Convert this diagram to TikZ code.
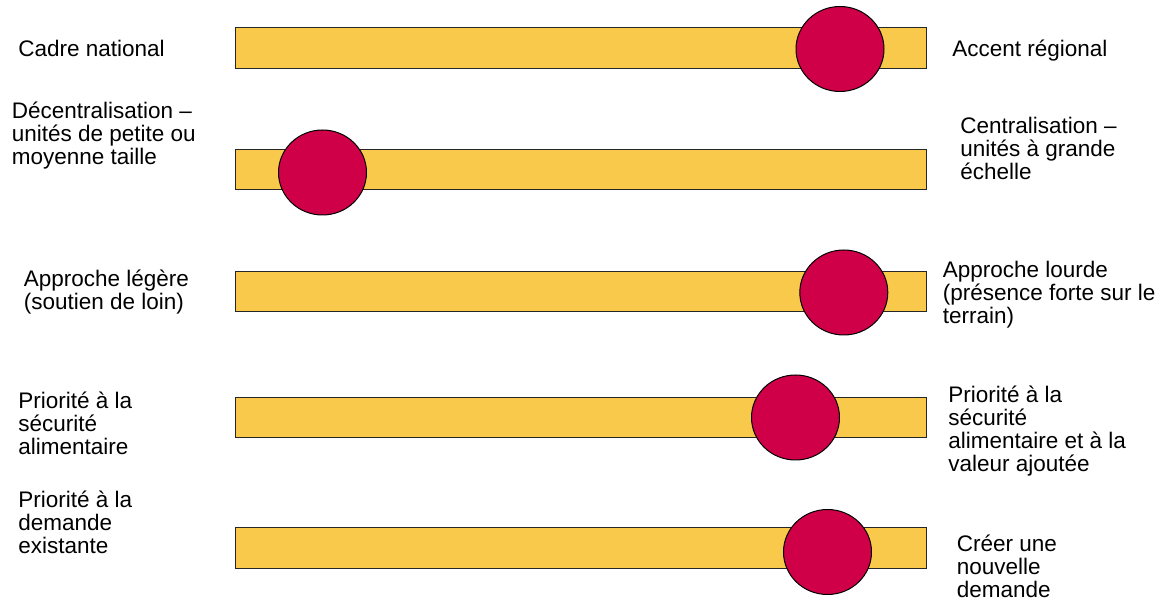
\documentclass[tikz,border=0pt]{standalone}
\usepackage{fontspec}
\setmainfont{Liberation Sans}
\usetikzlibrary{shapes.geometric}
\definecolor{barfill}{HTML}{F8C94A}
\definecolor{knobfill}{HTML}{D00048}
\tikzset{
  bar/.style   = {draw=black!85, line width=0.5pt, fill=barfill, rectangle,
                  minimum width=345.5pt, minimum height=20.25pt, inner sep=0pt},
  knob/.style  = {draw=black, line width=0.5pt, fill=knobfill, ellipse,
                  minimum width=44pt, minimum height=42.5pt, inner sep=0pt},
  % placed at the baseline of the last line
  lbl/.style   = {anchor=base west, align=left, inner sep=0pt,
                  font=\fontsize{11.25pt}{11.5pt}\selectfont},
}
\begin{document}
\begin{tikzpicture}[x=0.5pt, y=-0.5pt]
\useasboundingbox (0,0) rectangle (1167,603);

% sliders
\node[bar] (bar1) at (580.5,48) {};
\node[bar] (bar2) at (580.5,169.5) {};
\node[bar] (bar3) at (580.5,291.5) {};
\node[bar] (bar4) at (580.5,417.5) {};
\node[bar] (bar5) at (580.5,548) {};

\node[knob] (knob1) at (840,49) {};
\node[knob] (knob2) at (322.5,172.5) {};
\node[knob] (knob3) at (843.8,292.5) {};
\node[knob] (knob4) at (795.5,417.5) {};
\node[knob] (knob5) at (827.5,552) {};

% left ends
\node[lbl] (left1) at (18,56.5) {Cadre national};
\node[lbl] (left2) at (11.5,164.5) {Décentralisation –\\unités de petite ou\\moyenne taille};
\node[lbl] (left3) at (23.5,309.5) {Approche légère\\(soutien de loin)};
\node[lbl] (left4) at (18,455) {Priorité à la\\sécurité\\alimentaire};
\node[lbl] (left5) at (18,554) {Priorité à la\\demande\\existante};

% right ends
\node[lbl] (right1) at (952,56.5) {Accent régional};
\node[lbl] (right2) at (960,180) {Centralisation –\\unités à grande\\échelle};
\node[lbl] (right3) at (942.5,324) {Approche lourde\\(présence forte sur le\\terrain)};
\node[lbl] (right4) at (948,472) {Priorité à la\\sécurité\\alimentaire et à la\\valeur ajoutée};
\node[lbl] (right5) at (956.5,597) {Créer une\\nouvelle\\demande};
\end{tikzpicture}
\end{document}
